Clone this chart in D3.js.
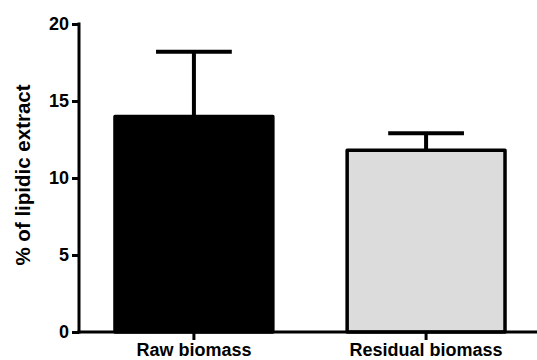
<!DOCTYPE html>
<html>
<head>
<meta charset="utf-8">
<script src="https://cdnjs.cloudflare.com/ajax/libs/d3/7.8.5/d3.min.js"></script>
<style>
body { margin: 0; background: #fff; }
text { font-family: "Liberation Sans", Arial, sans-serif; font-weight: bold; fill: #000; }
</style>
</head>
<body>
<div id="chart"></div>
<script>
var categories = ["Raw biomass", "Residual biomass"];
var means = [14.0, 11.8];
var errors = [4.2, 1.1];
var fills = ["#000000", "#dcdcdc"];
var yTicks = [0, 5, 10, 15, 20];

var width = 537, height = 360;
var svg = d3.select("#chart").append("svg")
    .attr("width", width)
    .attr("height", height);

var x = d3.scaleBand()
    .domain(categories)
    .range([79, 541])
    .paddingInner(0.32)
    .paddingOuter(0.155);

var y = d3.scaleLinear()
    .domain([0, 20])
    .range([332, 24]);

//bars
svg.selectAll("rect.bar")
    .data(categories)
    .enter()
    .append("rect")
    .attr("class", "bar")
    .attr("x", function (d) { return x(d); })
    .attr("y", function (d, i) { return y(means[i]); })
    .attr("width", x.bandwidth())
    .attr("height", function (d, i) { return y(0) - y(means[i]); })
    .attr("fill", function (d, i) { return fills[i]; })
    .attr("stroke", "#000")
    .attr("stroke-width", 3.5)
    .attr("stroke-linejoin", "round");

//error bars
svg.selectAll("line.err")
    .data(categories)
    .enter()
    .append("line")
    .attr("class", "err")
    .attr("x1", function (d) { return x(d) + x.bandwidth() / 2; })
    .attr("x2", function (d) { return x(d) + x.bandwidth() / 2; })
    .attr("y1", function (d, i) { return y(means[i]); })
    .attr("y2", function (d, i) { return y(means[i] + errors[i]); })
    .attr("stroke", "#000")
    .attr("stroke-width", 4);

svg.selectAll("line.cap")
    .data(categories)
    .enter()
    .append("line")
    .attr("class", "cap")
    .attr("x1", function (d) { return x(d) + x.bandwidth() * 0.26; })
    .attr("x2", function (d) { return x(d) + x.bandwidth() * 0.74; })
    .attr("y1", function (d, i) { return y(means[i] + errors[i]); })
    .attr("y2", function (d, i) { return y(means[i] + errors[i]); })
    .attr("stroke", "#000")
    .attr("stroke-width", 4);

//y axis
var yAxis = svg.append("g")
    .attr("transform", "translate(79,0)")
    .call(d3.axisLeft(y).tickValues(yTicks).tickSize(7).tickPadding(3).tickFormat(d3.format("d")));
yAxis.select(".domain").attr("stroke-width", 3).attr("d", "M0,22.5V333.5");
yAxis.selectAll(".tick line").attr("stroke-width", 3);
yAxis.selectAll(".tick text").style("font-size", "18px");

//x axis
var xAxis = svg.append("g")
    .attr("transform", "translate(0,332)")
    .call(d3.axisBottom(x).tickSize(8).tickPadding(3));
xAxis.select(".domain").attr("stroke-width", 3).attr("d", "M77.5,0H537");
xAxis.selectAll(".tick line").attr("stroke-width", 3);
xAxis.selectAll(".tick text").style("font-size", "18px");

//y title
svg.append("text")
    .attr("transform", "translate(30,175) rotate(-90)")
    .attr("text-anchor", "middle")
    .style("font-size", "20.5px")
    .text("% of lipidic extract");
</script>
</body>
</html>
